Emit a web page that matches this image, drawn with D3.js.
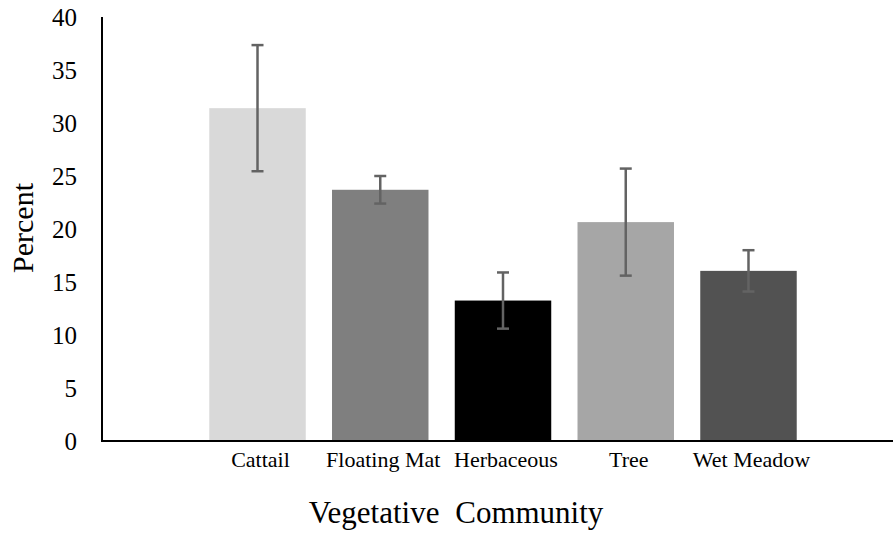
<!DOCTYPE html>
<html>
<head>
<meta charset="utf-8">
<script src="https://cdn.jsdelivr.net/npm/d3@7"></script>
<style>
    body { margin: 0; background: #fff; }
</style>
</head>
<body>
<svg id="viz_bars"></svg>
<script>
var categories = ["Cattail", "Floating Mat", "Herbaceous", "Tree", "Wet Meadow"];
var means = [31.4, 23.7, 13.25, 20.65, 16.05];
var errors = [5.95, 1.3, 2.65, 5.05, 1.95];
var colors = ["#d9d9d9", "#7f7f7f", "#000000", "#a6a6a6", "#525252"];
var y_ticks = [0, 5, 10, 15, 20, 25, 30, 35, 40];

var width = 893,
    height = 533,
    axis_left = 102,
    axis_top = 17,
    axis_bottom = 441,
    serif = "'Liberation Serif'";

var svg = d3.select("svg#viz_bars")
    .attr("width", width)
    .attr("height", height);

var x = d3.scaleBand()
    .domain(categories)
    .range([183, 823])
    .padding(0.214);

var y = d3.scaleLinear()
    .domain([0, 40])
    .range([axis_bottom, axis_top]);

var rows = categories.map(function(c, i) {
    return {"name": c, "mean": means[i], "err": errors[i], "color": colors[i]};
});

// bars
svg.selectAll("rect.bar")
    .data(rows)
    .enter()
    .append("rect")
        .attr("class", "bar")
        .attr("x", function(d) { return x(d.name); })
        .attr("y", function(d) { return y(d.mean); })
        .attr("width", x.bandwidth())
        .attr("height", function(d) { return y(0) - y(d.mean); })
        .style("fill", function(d) { return d.color; });

// error bars
var err_g = svg.selectAll("g.err")
    .data(rows)
    .enter()
    .append("g")
        .attr("class", "err")
        .attr("transform", function(d) {
            return "translate(" + [x(d.name) + x.bandwidth() / 2, 0] + ")";
        })
        .style("stroke", "#636363")
        .style("stroke-width", 2.5);

err_g.append("line")
    .attr("y1", function(d) { return y(d.mean + d.err); })
    .attr("y2", function(d) { return y(d.mean - d.err); });

err_g.selectAll("line.cap")
    .data(function(d) { return [d.mean + d.err, d.mean - d.err]; })
    .enter()
    .append("line")
        .attr("class", "cap")
        .attr("x1", -6)
        .attr("x2", 6)
        .attr("y1", function(v) { return y(v); })
        .attr("y2", function(v) { return y(v); });

// axes lines
svg.append("line")
    .attr("x1", axis_left)
    .attr("x2", axis_left)
    .attr("y1", y(40))
    .attr("y2", y(0) + 1)
    .style("stroke", "#000")
    .style("stroke-width", 2);

svg.append("line")
    .attr("x1", axis_left - 1)
    .attr("x2", width)
    .attr("y1", y(0))
    .attr("y2", y(0))
    .style("stroke", "#000")
    .style("stroke-width", 2);

// y value labels
svg.selectAll("text.pct_label")
    .data(y_ticks)
    .enter()
    .append("text")
        .attr("class", "pct_label")
        .attr("x", 77)
        .attr("y", function(d) { return y(d) + 9; })
        .attr("text-anchor", "end")
        .style("font-family", serif)
        .style("font-size", "25px")
        .text(function(d) { return d; });

// category labels
svg.selectAll("text.cat_label")
    .data(categories)
    .enter()
    .append("text")
        .attr("class", "cat_label")
        .attr("x", function(d) { return x(d) + x.bandwidth() / 2 + 3; })
        .attr("y", 467)
        .attr("text-anchor", "middle")
        .style("font-family", serif)
        .style("font-size", "22px")
        .text(function(d) { return d; });

// axis titles
svg.append("text")
    .attr("x", 456)
    .attr("y", 523)
    .attr("text-anchor", "middle")
    .style("font-family", serif)
    .style("font-size", "31px")
    .style("word-spacing", "8px")
    .text("Vegetative Community");

svg.append("text")
    .attr("transform", "translate(" + [33, 228] + ") rotate(-90)")
    .attr("text-anchor", "middle")
    .style("font-family", serif)
    .style("font-size", "30px")
    .text("Percent");
</script>
</body>
</html>
